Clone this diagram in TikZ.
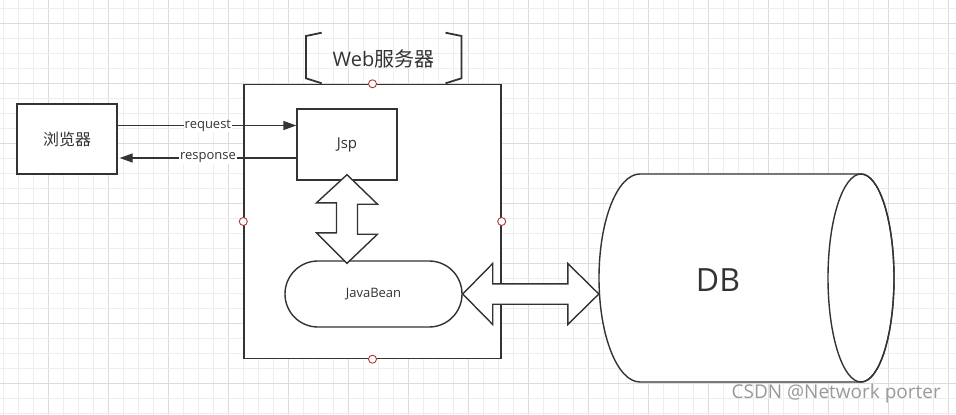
\documentclass[tikz,border=0pt]{standalone}
\usepackage{fontspec}
\setmainfont{Open Sans}
\newfontfamily\cjk{Noto Sans CJK SC}
\usetikzlibrary{calc,arrows.meta}
\definecolor{ink}{HTML}{333333}
\definecolor{gridminor}{HTML}{EEEEEE}
\definecolor{gridmajor}{HTML}{DCDCDC}
\definecolor{handlec}{HTML}{B03A3A}
\definecolor{wm}{HTML}{9A9A9A}
\begin{document}
\begin{tikzpicture}[x=1pt,y=-1pt,
  box/.style={draw=ink,line width=1.4pt,fill=white,inner sep=0pt,text=ink},
  handle/.style={circle,draw=handlec,fill=white,line width=0.9pt,minimum size=8pt,inner sep=0pt},
  bigarrow/.style={draw=ink,line width=1.4pt,fill=white,line join=miter},
  flow/.style={draw=ink,line width=1.4pt,-{Triangle[length=13pt,width=9pt]}},
  lbl/.style={fill=white,inner sep=1pt,text=ink,font=\fontsize{13}{15}\selectfont},
  bracket/.style={draw=ink,line width=1.8pt}]
\useasboundingbox (0,0) rectangle (956,415);
\fill[white] (0,0) rectangle (956,415);
% grid
\foreach \i in {0,...,63}{
  \pgfmathtruncatemacro{\m}{mod(\i,4)}
  \ifnum\m=3 \def\gc{gridmajor}\else\def\gc{gridminor}\fi
  \draw[\gc,line width=0.9pt] (3.3+15*\i,0) -- (3.3+15*\i,415);
}
\foreach \j in {0,...,27}{
  \pgfmathtruncatemacro{\m}{mod(\j,4)}
  \ifnum\m=1 \def\gc{gridmajor}\else\def\gc{gridminor}\fi
  \draw[\gc,line width=0.9pt] (0,8.3+15*\j) -- (956,8.3+15*\j);
}
% web server box
\node[box,minimum width=257pt,minimum height=274pt] (web) at (372.5,221.5) {};
% bracket label
\node[text=ink,font=\fontsize{20}{22}\selectfont] (weblabel) at (383.5,59) {Web{\cjk 服务器}};
\draw[bracket] (321.7,32.7) -- (306,36) -- (306,78.3) -- (321.7,83.3);
\draw[bracket] (445.5,32.7) -- (461.5,36) -- (461.5,78.3) -- (445.5,83.3);
% nodes
\node[box,minimum width=100pt,minimum height=70pt,font=\cjk\fontsize{16}{18}\selectfont] (browser) at (67,139) {浏览器};
\node[box,minimum width=100pt,minimum height=71pt,font=\fontsize{15}{17}\selectfont] (jsp) at (347,144.5) {Jsp};
\node[box,minimum width=177pt,minimum height=66pt,rounded corners=32.9pt,font=\fontsize{13}{15}\selectfont] (bean) at (373.5,294) {JavaBean};
% DB cylinder
\draw[ink,line width=1.4pt,fill=white] (640,174) arc[start angle=-90,end angle=-270,x radius=41,y radius=104]
  -- (861,382) arc[start angle=90,end angle=-90,x radius=33,y radius=104] -- cycle;
\draw[ink,line width=1.4pt] (861,278) ellipse[x radius=33,y radius=104];
\node[inner sep=0pt,minimum width=295pt,minimum height=208pt] (dbbody) at (746.5,278) {};
\node[text=ink,font=\fontsize{32}{36}\selectfont] (db) at (718,280) {DB};
% big double arrows
\coordinate (T) at ($(jsp.south)+(0,-6)$);
\coordinate (B) at ($(jsp.south |- bean.north)+(0,3)$);
\draw[bigarrow] (T) -- ++(30.5,29.5) -- ++(-20,0) -- ++(0,30) -- ++(20,0) -- (B)
  -- ++(-30.5,-30.5) -- ++(20,0) -- ++(0,-30) -- ++(-20,0) -- cycle;
\coordinate (L) at (bean.east);
\coordinate (R) at (dbbody.west |- bean.east);
\draw[bigarrow] (L) -- ($(L)+(30,-30.5)$) -- ($(L)+(30,-10.2)$) -- ($(R)+(-31,-10.2)$)
  -- ($(R)+(-31,-30.5)$) -- (R) -- ($(R)+(-31,30.5)$) -- ($(R)+(-31,10.2)$)
  -- ($(L)+(30,10.2)$) -- ($(L)+(30,30.5)$) -- cycle;
% request / response
\draw[flow] ([yshift=13.5pt]browser.east) -- ([yshift=13.5pt]browser.east -| jsp.west)
  node[lbl,pos=0.505] {request};
\draw[flow] ([yshift=-19pt]browser.east -| jsp.west) -- ([yshift=-19pt,xshift=2pt]browser.east)
  node[lbl,pos=0.5] {response};
% handles
\node[handle] (h1) at (web.north) {};
\node[handle] (h2) at (web.south) {};
\node[handle] (h3) at (web.west) {};
\node[handle] (h4) at (web.east) {};
% watermark
\node[text=wm,font=\fontsize{19}{22}\selectfont,anchor=east,inner sep=0pt] (wmk) at (941,394) {CSDN @Network porter};
\end{tikzpicture}
\end{document}
